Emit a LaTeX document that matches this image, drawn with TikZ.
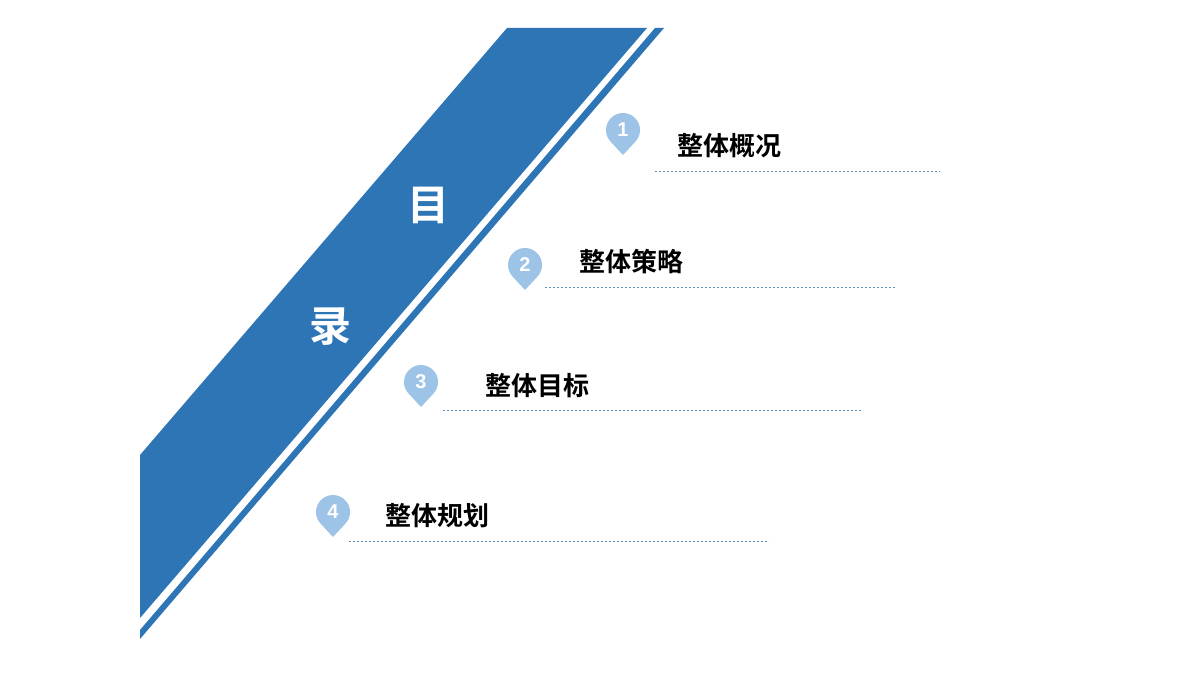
\documentclass[tikz,border=0pt]{standalone}
\usetikzlibrary{calc}
\usepackage{fontspec}
\newfontfamily\cjk{Noto Sans CJK SC Bold}
\setmainfont{Liberation Sans}
\definecolor{mainblue}{HTML}{2E75B6}
\definecolor{pinblue}{HTML}{9DC3E6}
\definecolor{lineblue}{HTML}{5B8DB8}
\begin{document}
\begin{tikzpicture}[x=1pt,y=1pt,
  item/.style={anchor=west,inner sep=0pt,font=\cjk\fontsize{26}{28}\selectfont},
  num/.style={text=white,font=\bfseries\fontsize{20}{22}\selectfont,inner sep=0pt},
  big/.style={text=white,font=\cjk\fontsize{42}{44}\selectfont,inner sep=0pt},
  dl/.style={draw=lineblue,dashed,dash pattern=on 2pt off 2pt,line width=0.8pt}]
\useasboundingbox (0,0) rectangle (1200,675);
\fill[mainblue] (140,220) -- (507,647) -- (647,647) -- (140,57) -- cycle;
\fill[mainblue] (140,45) -- (655,647) -- (664,647) -- (140,36) -- cycle;
\node[big] (mu) at (428,470) {目};
\node[big] (lu) at (330,348) {录};
\foreach \n/\cx/\cy/\tx/\ty/\ly/\la/\lb/\t in {
 1/623/545/677/529/504/655/940/整体概况,
 2/525/410/579/413/388/545/895/整体策略,
 3/421/293/485/289/265/443/862/整体目标,
 4/333/163/385/159/134/349/769/整体规划}{
  \coordinate (c\n) at (\cx,\cy);
  \fill[pinblue] (\cx,\cy-25) -- ($(c\n)+(220:17)$) arc[start angle=220,end angle=-40,radius=17] -- cycle;
  \node[num] (n\n) at (c\n) {\n};
  \node[item] (t\n) at (\tx,\ty) {\t};
  \coordinate (la\n) at (\la,\ly);
  \coordinate (lb\n) at (\lb,\ly);
  \draw[dl] (la\n) -- (lb\n);
}
\end{tikzpicture}
\end{document}
